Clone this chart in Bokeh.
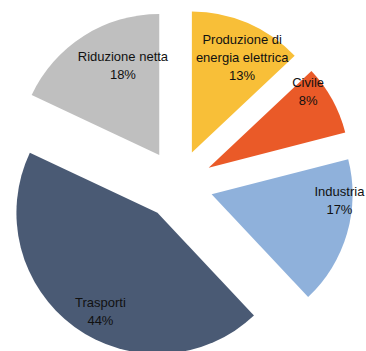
import math
from bokeh.plotting import figure
from bokeh.models import Range1d, ColumnDataSource
from bokeh.core.properties import value
from bokeh.embed import file_html
from bokeh.resources import INLINE

# ---- data ----
categories = ["Produzione di\nenergia elettrica", "Civile", "Industria", "Trasporti", "Riduzione netta"]
shares = [13, 8, 17, 44, 18]
colors = ["#F8BF38", "#EA5A28", "#8FB1DB", "#4A5A74", "#BFBFBF"]

# ---- layout ----
W, H = 366, 351
CX, CY = 177.5, 167.0
R = 141
EXPLODE = 35
label_dist = [107, 125, 128, 114, 97]
label_angle = [28, 52.7, 93, 210, 338]  # clockwise from 12 o'clock, degrees

total = sum(shares)
starts, ends, xs, ys, lx, ly, texts = [], [], [], [], [], [], []
cum = 0.0
for i, s in enumerate(shares):
    a0 = cum / total * 360.0
    a1 = (cum + s) / total * 360.0
    cum += s
    mid = math.radians((a0 + a1) / 2)
    ox = CX + EXPLODE * math.sin(mid)
    oy = CY + EXPLODE * math.cos(mid)
    xs.append(ox)
    ys.append(oy)
    starts.append(math.radians(90 - a1))
    ends.append(math.radians(90 - a0))
    la = math.radians(label_angle[i])
    lx.append(ox + label_dist[i] * math.sin(la))
    ly.append(oy + label_dist[i] * math.cos(la))
    texts.append(f"{categories[i]}\n{round(s / total * 100)}%")

src = ColumnDataSource(dict(x=xs, y=ys, start=starts, end=ends, color=colors))
lsrc = ColumnDataSource(dict(x=lx, y=ly, text=texts))

p = figure(width=W, height=H, x_range=Range1d(0, W), y_range=Range1d(0, H),
           output_backend="svg", toolbar_location=None, min_border=0)
p.axis.visible = False
p.grid.visible = False
p.outline_line_color = None
p.background_fill_color = "white"
p.border_fill_color = "white"

p.wedge(x="x", y="y", radius=R, start_angle="start", end_angle="end",
        fill_color="color", line_color=None, source=src)
p.text(x="x", y="y", text="text", source=lsrc, text_align="center",
       text_baseline="middle", text_font=value("Liberation Sans"),
       text_font_size="13px", text_color="#111111", text_line_height=1.2)

open("out.html", "w").write(file_html(p, INLINE))
